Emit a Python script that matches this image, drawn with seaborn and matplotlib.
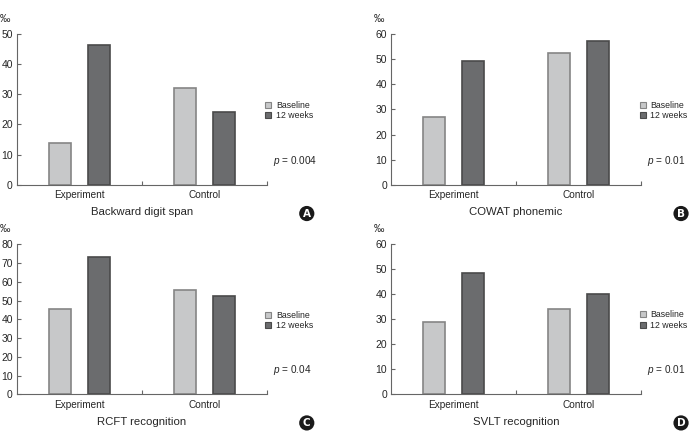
import matplotlib
matplotlib.use("Agg")
import matplotlib.pyplot as plt
from matplotlib import font_manager as fm
import seaborn as sns
import pandas as pd
from matplotlib.patches import Patch

groups = ["Experiment", "Control"]
times = ["Baseline", "12 weeks"]

digit_span = [14, 46.4, 32, 24.2]
cowat = [27, 49.3, 52.3, 57.2]
rcft = [45.4, 73.5, 55.5, 52.6]
svlt = [28.9, 48.3, 33.9, 40.1]

titles = ["Backward digit span", "COWAT phonemic", "RCFT recognition", "SVLT recognition"]
letters = ["A", "B", "C", "D"]
pvals = ["0.004", "0.01", "0.04", "0.01"]
ymax = [50, 60, 80, 60]

sns.set_style("white")
names = sorted({f.name for f in fm.fontManager.ttflist})
narrow = "Liberation Sans Narrow" if "Liberation Sans Narrow" in names else "Liberation Sans"
plt.rcParams["font.family"] = [narrow, "DejaVu Sans"]
plt.rcParams["mathtext.fontset"] = "custom"
plt.rcParams["mathtext.it"] = narrow + ":italic"
plt.rcParams["mathtext.rm"] = narrow

light, dark = "#c7c8c9", "#6b6c6e"
edges = ["#858585", "#4a4a4a"]
spine_col = "#666666"

fig = plt.figure(figsize=(6.9, 4.34), dpi=100)

# left, bottom, width, height in figure fractions
boxes = [
    [0.0246, 0.574, 0.362, 0.348],
    [0.567, 0.574, 0.362, 0.348],
    [0.0246, 0.0915, 0.362, 0.3455],
    [0.567, 0.0915, 0.362, 0.347],
]

for i, vals in enumerate([digit_span, cowat, rcft, svlt]):
    df = pd.DataFrame({
        "group": [g for g in groups for _ in times],
        "time": times * 2,
        "value": vals,
    })
    ax = fig.add_axes(boxes[i])
    sns.barplot(data=df, x="group", y="value", hue="time", hue_order=times,
                palette=[light, dark], width=0.62, gap=0.435, ax=ax,
                legend=False, linewidth=1.2)
    for j, bar in enumerate(ax.patches):
        bar.set_edgecolor(edges[0] if j < 2 else edges[1])

    ax.set_xlim(-0.5, 1.5)
    ax.set_ylim(0, ymax[i])
    ax.set_yticks(range(0, ymax[i] + 1, 10))
    sns.despine(ax=ax)
    for s in ["left", "bottom"]:
        ax.spines[s].set_color(spine_col)
        ax.spines[s].set_linewidth(0.8)

    ax.tick_params(axis="y", direction="in", length=3, width=0.8, color=spine_col,
                   labelsize=7.5, pad=3, left=True)
    ax.set_xticks([0, 1])
    ax.set_xticklabels(groups)
    ax.tick_params(axis="x", length=0, labelsize=7.2, pad=4)
    ax.set_xticks([0.5, 1.5], minor=True)
    ax.tick_params(axis="x", which="minor", direction="in", length=3, width=0.8,
                   color=spine_col, bottom=True)
    ax.set_xlabel(titles[i], fontsize=8.2, labelpad=5)
    ax.set_ylabel("")
    ax.text(-0.05, 1.1, "‰", transform=ax.transAxes, fontsize=7.5,
            ha="center", va="center")

    handles = [Patch(facecolor=light, edgecolor=edges[0], linewidth=0.8),
               Patch(facecolor=dark, edgecolor=edges[1], linewidth=0.8)]
    ax.legend(handles, times, loc="center left", bbox_to_anchor=(0.98, 0.493),
              frameon=False, fontsize=6.3, handlelength=0.7, handleheight=0.7,
              handletextpad=0.5, labelspacing=0.15, borderaxespad=0)
    ax.text(1.024, 0.16, f"$p$ = {pvals[i]}", transform=ax.transAxes,
            fontsize=7.2, ha="left", va="center")

    bx = boxes[i]
    fig.text(bx[0] + bx[2] + 0.058, bx[1] - 0.066, letters[i], fontsize=7.5,
             fontweight="bold", color="white", ha="center", va="center",
             family="DejaVu Sans",
             bbox=dict(boxstyle="circle,pad=0.25", facecolor="#1a1a1a",
                       edgecolor="none"))

fig.savefig("out.png", dpi=100)
